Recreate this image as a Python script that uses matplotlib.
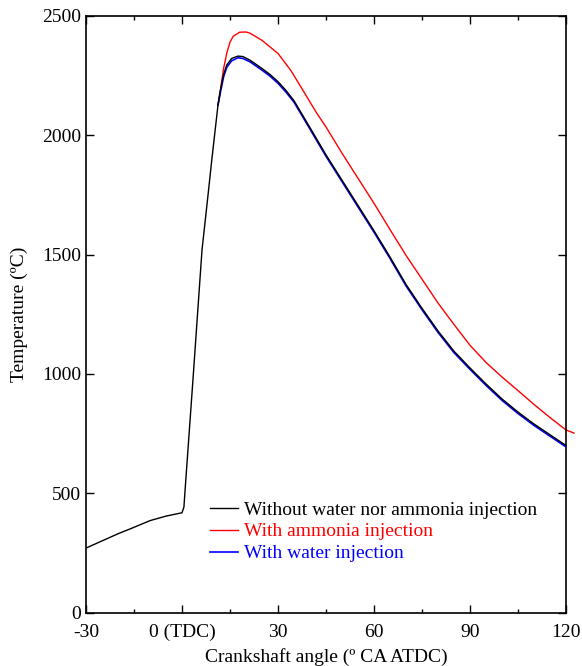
import matplotlib
matplotlib.use("Agg")
import matplotlib.pyplot as plt
from matplotlib.ticker import MultipleLocator

plt.rcParams['font.family'] = ['Liberation Serif', 'DejaVu Serif']

# Baseline: without water nor ammonia injection
base_angle = [-30, -25, -20, -17, -10, -5, 0, 0.6, 1.0, 3.5, 6.25, 8.2, 9.3, 11.25,
              12, 13, 14, 15.5, 17.5, 19, 21.25, 25, 27.5, 30, 32.5, 35, 40, 45, 50, 55, 60,
              65, 70, 75, 80, 85, 90, 95, 100, 105, 110, 115, 120]
base_temp = [270, 300, 330, 346, 385, 404, 418, 442, 520, 990, 1519, 1758, 1896, 2127,
             2190, 2255, 2295, 2322, 2332, 2330, 2315, 2280, 2255, 2225, 2188, 2145, 2032, 1918, 1812, 1706, 1600,
             1490, 1375, 1275, 1180, 1095, 1025, 958, 895, 840, 790, 745, 700]

# With ammonia injection
nh3_angle = [11.25, 11.9, 13, 14, 15, 16, 18, 20, 21.25, 25, 30, 34, 38, 42, 45, 50, 55, 60,
             65, 70, 75, 80, 85, 90, 95, 100, 105, 110, 115, 120, 122.5]
nh3_temp = [2127, 2180, 2280, 2345, 2390, 2415, 2432, 2433, 2428, 2398, 2343, 2272, 2184, 2095, 2035,
            1925, 1820, 1715, 1605, 1497, 1397, 1297, 1207, 1120, 1048, 987, 930, 872, 817, 765, 752]

# With water injection
h2o_angle = [11.25, 12, 13, 14, 15.5, 17.5, 19, 21.25, 25, 27.5, 30, 32.5, 35, 40, 45, 50, 55, 60,
             65, 70, 75, 80, 85, 90, 95, 100, 105, 110, 115, 120]
h2o_temp = [2127, 2180, 2245, 2285, 2312, 2325, 2322, 2308, 2273, 2248, 2218, 2181, 2139, 2026, 1912, 1806,
            1700, 1594, 1484, 1369, 1269, 1174, 1089, 1019, 952, 889, 834, 784, 739, 694]

x_ticks = [-30, 0, 30, 60, 90, 120]
x_ticklabels = ["-30", "0 (TDC)", "30", "60", "90", "120"]
y_ticks = [0, 500, 1000, 1500, 2000, 2500]

fig = plt.figure(figsize=(5.82, 6.66), dpi=100)
ax = fig.add_axes([86/582, 1 - 612.5/666, 480/582, (612.5 - 16)/666])

l_nh3, = ax.plot(nh3_angle, nh3_temp, color='#ff0000', lw=1.0, label='With ammonia injection',
                 zorder=2, clip_on=False)
l_h2o, = ax.plot(h2o_angle, h2o_temp, color='#0000ff', lw=1.2, label='With water injection', zorder=3)
l_base, = ax.plot(base_angle, base_temp, color='#000000', lw=1.0,
                  label='Without water nor ammonia injection', zorder=4)

ax.set_xlim(-30, 120)
ax.set_ylim(0, 2500)
ax.set_xticks(x_ticks)
ax.set_xticklabels(x_ticklabels)
ax.set_yticks(y_ticks)
ax.xaxis.set_minor_locator(MultipleLocator(15))
ax.tick_params(which='both', direction='in', top=True, right=True, labelsize=14, width=1.0)
ax.tick_params(which='major', length=6)
ax.tick_params(which='minor', length=3)
ax.tick_params(axis='x', pad=8)
for s in ax.spines.values():
    s.set_linewidth(1.2)

ax.set_xlabel('Crankshaft angle (º CA ATDC)', fontsize=14, labelpad=5)
ax.set_ylabel('Temperature (ºC)', fontsize=14, labelpad=10)

leg = ax.legend(handles=[l_base, l_nh3, l_h2o], loc='upper left',
                bbox_to_anchor=(0.258, 0.187), frameon=False, fontsize=14,
                handlelength=1.45, handletextpad=0.3, labelspacing=0.22,
                labelcolor='linecolor', borderaxespad=0, borderpad=0)

fig.savefig('out.png', dpi=100)
